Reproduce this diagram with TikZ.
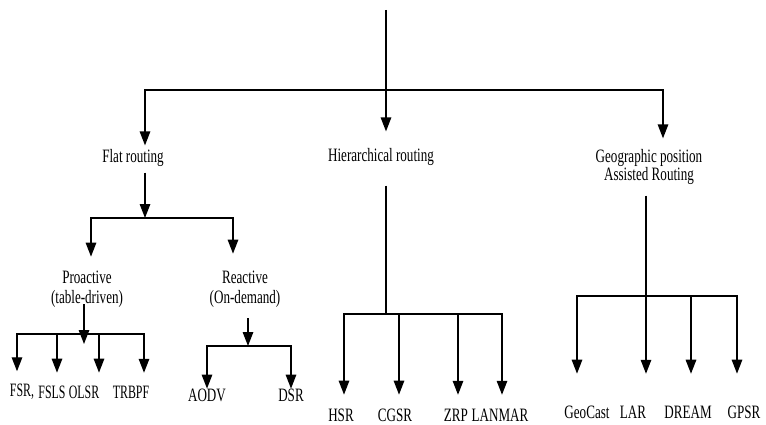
\documentclass[tikz,border=0pt]{standalone}
\usepackage{fontspec}
\setmainfont{Liberation Serif}
\usetikzlibrary{arrows.meta}
\newcommand\tallbox[1]{\scalebox{0.97}[1.4]{#1}}
\newcommand\narrowbox[1]{\scalebox{0.88}[1.4]{#1}}
\begin{document}
\begin{tikzpicture}[x=1pt,y=-1pt,
  wire/.style={line width=1.4pt,line cap=rect},
  arr/.style={line width=1.4pt,-{Triangle[width=10.5pt,length=14pt]}},
  lbl/.style={inner sep=0pt,outer sep=0pt,font=\fontsize{13.5}{16}\selectfont}]
\useasboundingbox (0,0) rectangle (766,425);

% ---------- labels ----------
\node[lbl] (flat) at (133,158) {\tallbox{Flat routing}};
\node[lbl] (hier) at (381,157) {\tallbox{Hierarchical routing}};
\node[lbl] (geo)  at (649,167) {\tallbox{\begin{tabular}{@{}c@{}}Geographic position\\[-2.5pt] Assisted Routing\end{tabular}}};

\node[lbl] (pro) at (87,289) {\tallbox{\begin{tabular}{@{}c@{}}Proactive\\[-1.5pt](table-driven)\end{tabular}}};
\node[lbl] (rea) at (245,289) {\tallbox{\begin{tabular}{@{}c@{}}Reactive\\[-1.5pt](On-demand)\end{tabular}}};

\node[lbl] (fsr)   at (22,392)  {\narrowbox{FSR,}};
\node[lbl] (fsls)  at (52,392)  {\narrowbox{FSLS}};
\node[lbl] (olsr)  at (84,392)  {\narrowbox{OLSR}};
\node[lbl] (trbpf) at (131,392) {\narrowbox{TRBPF}};
\node[lbl] (aodv)  at (207,395) {\tallbox{AODV}};
\node[lbl] (dsr)   at (291,395) {\tallbox{DSR}};

\node[lbl] (hsr)    at (341,415) {\tallbox{HSR}};
\node[lbl] (cgsr)   at (395,415) {\tallbox{CGSR}};
\node[lbl] (zrp)    at (456,415) {\tallbox{ZRP}};
\node[lbl] (lanmar) at (500,415) {\tallbox{LANMAR}};

\node[lbl] (geocast) at (587,412) {\tallbox{GeoCast}};
\node[lbl] (lar)     at (633,412) {\tallbox{LAR}};
\node[lbl] (dream)   at (688,412) {\tallbox{DREAM}};
\node[lbl] (gpsr)    at (744,412) {\tallbox{GPSR}};

% ---------- junction points ----------
\coordinate (root) at (386,10);
\coordinate (j0) at (386,90);
\coordinate (j0l) at (145,90);
\coordinate (j0r) at (663,90);

\coordinate (fb) at (145,218);
\coordinate (fbl) at (91,218);
\coordinate (fbr) at (233,218);

\coordinate (pb) at (84,334);
\coordinate (pb1) at (17,334);
\coordinate (pb2) at (57,334);
\coordinate (pb3) at (99,334);
\coordinate (pb4) at (144,334);

\coordinate (rb) at (248,346);
\coordinate (rb1) at (207,346);
\coordinate (rb2) at (291,346);

\coordinate (hb) at (386,314);
\coordinate (hb1) at (344,314);
\coordinate (hb2) at (399,314);
\coordinate (hb3) at (458,314);
\coordinate (hb4) at (502,314);

\coordinate (gb) at (646,296);
\coordinate (gb1) at (577,296);
\coordinate (gb2) at (646,296);
\coordinate (gb3) at (691,296);
\coordinate (gb4) at (737,296);

% ---------- top level ----------
\draw[wire,line cap=butt] (root) -- (j0);
\draw[wire] (j0l) -- (j0r);
\draw[arr,shorten >=4pt]  (j0l) -- (j0l |- flat.north);
\draw[arr,shorten >=17pt] (j0)  -- (j0 |- hier.north);
\draw[arr,shorten >=8pt]  (j0r) -- (j0r |- geo.north);

% ---------- flat routing ----------
\draw[arr,shorten <=6pt] (fb |- flat.south) -- (fb);
\draw[wire] (fbl) -- (fbr);
\draw[arr,shorten >=11pt] (fbl) -- (fbl |- pro.north);
\draw[arr,shorten >=14pt] (fbr) -- (fbr |- rea.north);

% proactive
\draw[arr,shorten <=-6pt,shorten >=-10pt] (pb |- pro.south) -- (pb);
\draw[wire] (pb1) -- (pb4);
\draw[arr,shorten >=13pt] (pb1) -- (pb1 |- fsr.north);
\draw[arr,shorten >=13pt] (pb2) -- (pb2 |- fsls.north);
\draw[arr,shorten >=13pt] (pb3) -- (pb3 |- olsr.north);
\draw[arr,shorten >=13pt] (pb4) -- (pb4 |- trbpf.north);

% reactive
\draw[arr,shorten <=8pt] (rb |- rea.south) -- (rb);
\draw[wire] (rb1) -- (rb2);
\draw[arr,shorten >=0pt] (rb1) -- (rb1 |- aodv.north);
\draw[arr,shorten >=0pt] (rb2) -- (rb2 |- dsr.north);

% ---------- hierarchical routing ----------
\draw[wire,line cap=butt,shorten <=20pt] (hb |- hier.south) -- (hb);
\draw[wire] (hb1) -- (hb4);
\draw[arr,shorten >=14pt] (hb1) -- (hb1 |- hsr.north);
\draw[arr,shorten >=14pt] (hb2) -- (hb2 |- cgsr.north);
\draw[arr,shorten >=14pt] (hb3) -- (hb3 |- zrp.north);
\draw[arr,shorten >=14pt] (hb4) -- (hb4 |- lanmar.north);

% ---------- geographic position assisted routing ----------
\draw[wire,line cap=butt,shorten <=8pt] (gb |- geo.south) -- (gb);
\draw[wire] (gb1) -- (gb4);
\draw[arr,shorten >=32pt] (gb1) -- (gb1 |- geocast.north);
\draw[arr,shorten >=32pt] (gb2) -- (gb2 |- lar.north);
\draw[arr,shorten >=32pt] (gb3) -- (gb3 |- dream.north);
\draw[arr,shorten >=32pt] (gb4) -- (gb4 |- gpsr.north);
\end{tikzpicture}
\end{document}
